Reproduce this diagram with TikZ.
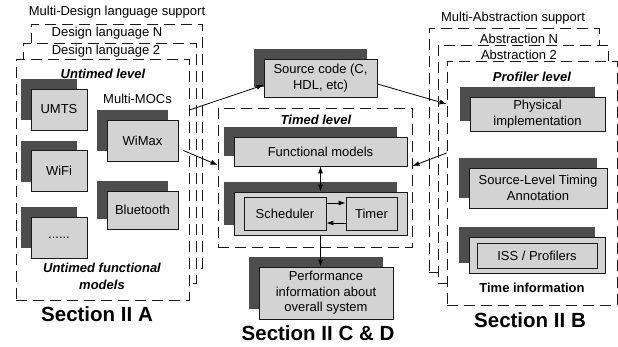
\documentclass[tikz,border=0pt]{standalone}
\usepackage{fontspec}
\setmainfont{Liberation Sans}
\usetikzlibrary{shadows,arrows.meta,calc}
\definecolor{shade}{HTML}{4D4D4D}
\definecolor{boxfill}{HTML}{D3D3D3}
\begin{document}
\begin{tikzpicture}[x=1pt,y=-1pt,
  txt/.style={font=\fontsize{13}{15.5}\selectfont, align=center, inner sep=0},
  itl/.style={font=\fontsize{13}{16.5}\selectfont\bfseries\itshape, align=center, inner sep=0},
  bld/.style={font=\fontsize{13}{15.5}\selectfont\bfseries, align=center, inner sep=0},
  sect/.style={font=\fontsize{20.5}{24}\selectfont\bfseries, inner sep=0},
  plainbox/.style={draw=black!90, line width=0.8pt, fill=boxfill, inner sep=0, align=center,
    font=\fontsize{13}{15.5}\selectfont},
  sbox/.style={plainbox, copy shadow={shadow xshift=-10pt, shadow yshift=10pt, fill=shade, draw=none}},
  dbox/.style={draw=black!90, line width=0.8pt, fill=white, dash pattern=on 11pt off 6pt, inner sep=0},
  arr/.style={line width=0.8pt, -{Latex[length=7pt,width=5pt]}},
  darr/.style={line width=0.8pt, {Latex[length=7pt,width=5pt]}-{Latex[length=7pt,width=5pt]}}
]
\useasboundingbox (0,0) rectangle (618,346);

% ---------- left: design languages ----------
\node[txt] (mdl) at (117,12) {Multi-Design language support};
\node[dbox, minimum width=171pt, minimum height=244pt] (L1) at (116.5,146) {};
\node[txt] (dln) at (107,33) {Design language N};
\node[dbox, minimum width=173pt, minimum height=240pt] (L2) at (109.5,163) {};
\node[txt] (dl2) at (106,51.5) {Design language 2};
\node[dbox, minimum width=173pt, minimum height=241pt] (L3) at (102.5,179.5) {};
\node[itl] (utl) at (103,74) {Untimed level};
\node[sbox, minimum width=56pt, minimum height=41pt] (umts) at (59,109.5) {UMTS};
\node[sbox, minimum width=56pt, minimum height=41pt] (wifi) at (59,171) {WiFi};
\node[sbox, minimum width=56pt, minimum height=41pt] (dots) at (59,237.5) {......};
\node[txt] (moc) at (137.5,99) {Multi-MOCs};
\node[sbox, minimum width=71pt, minimum height=41pt] (wimax) at (142.5,140.5) {WiMax};
\node[sbox, minimum width=71pt, minimum height=38pt] (bt) at (142.5,210) {Bluetooth};
\node[itl] (uf) at (102,276.5) {Untimed functional\\models};
\node[sect] (s2a) at (97,314.5) {Section II A};

% ---------- centre ----------
\node[sbox, minimum width=113pt, minimum height=38pt] (src) at (320.5,78) {Source code (C,\\HDL, etc)};
\node[dbox, minimum width=194pt, minimum height=139pt] (T) at (315,177.5) {};
\node[itl] (tl) at (316,120) {Timed level};
\node[sbox, minimum width=173pt, minimum height=29pt] (fm) at (320.5,151.5) {Functional models};
\node[sbox, minimum width=173pt, minimum height=43pt] (cont) at (320.5,213.5) {};
\node[plainbox, minimum width=82pt, minimum height=33pt] (sched) at (285,213.5) {Scheduler};
\node[plainbox, minimum width=51pt, minimum height=33pt] (timer) at (371.5,213.5) {Timer};
\node[sbox, minimum width=134pt, minimum height=52pt] (perf) at (326,293) {Performance\\information about\\overall system};
\node[sect] (s2cd) at (318,333) {Section II C \& D};

% ---------- right: abstractions ----------
\node[txt] (mas) at (513,18) {Multi-Abstraction support};
\node[dbox, minimum width=170pt, minimum height=244pt] (R1) at (514,150) {};
\node[txt] (abn) at (519,38.5) {Abstraction N};
\node[dbox, minimum width=170pt, minimum height=238pt] (R2) at (523,164) {};
\node[txt] (ab2) at (519,54.5) {Abstraction 2};
\node[dbox, minimum width=170pt, minimum height=244pt] (R3) at (532,183) {};
\node[itl] (pl) at (532,77) {Profiler level};
\node[sbox, minimum width=135pt, minimum height=34pt] (phys) at (537.5,114) {Physical\\implementation};
\node[sbox, minimum width=138pt, minimum height=40pt] (slta) at (538,188) {Source-Level Timing\\Annotation};
\node[sbox, minimum width=136pt, minimum height=36pt] (issout) at (537,255) {};
\node[plainbox, minimum width=120pt, minimum height=25pt] (iss) at (537,255.5) {ISS / Profilers};
\node[bld] (ti) at (532,288) {Time information};
\node[sect] (s2b) at (530,320) {Section II B};

% ---------- connectors ----------
\draw[arr] (L3.east |- 0,110) -- (src.west |- 0,85);
\draw[arr] ($(wimax.east)+(5,10)$) -- (T.west |- 0,165);
\draw[arr] (src.east |- 0,84) -- (R3.west |- 0,104);
\draw[arr] (R3.west |- 0,153) -- (T.east |- 0,166);
\draw[darr] (fm.south) -- (cont.north);
\draw[arr] (sched.east |- 0,203) -- (timer.west |- 0,203);
\draw[arr] (timer.west |- 0,223) -- (sched.east |- 0,223);
\draw[arr] (cont.south) -- (cont.south |- perf.north);
\end{tikzpicture}
\end{document}
